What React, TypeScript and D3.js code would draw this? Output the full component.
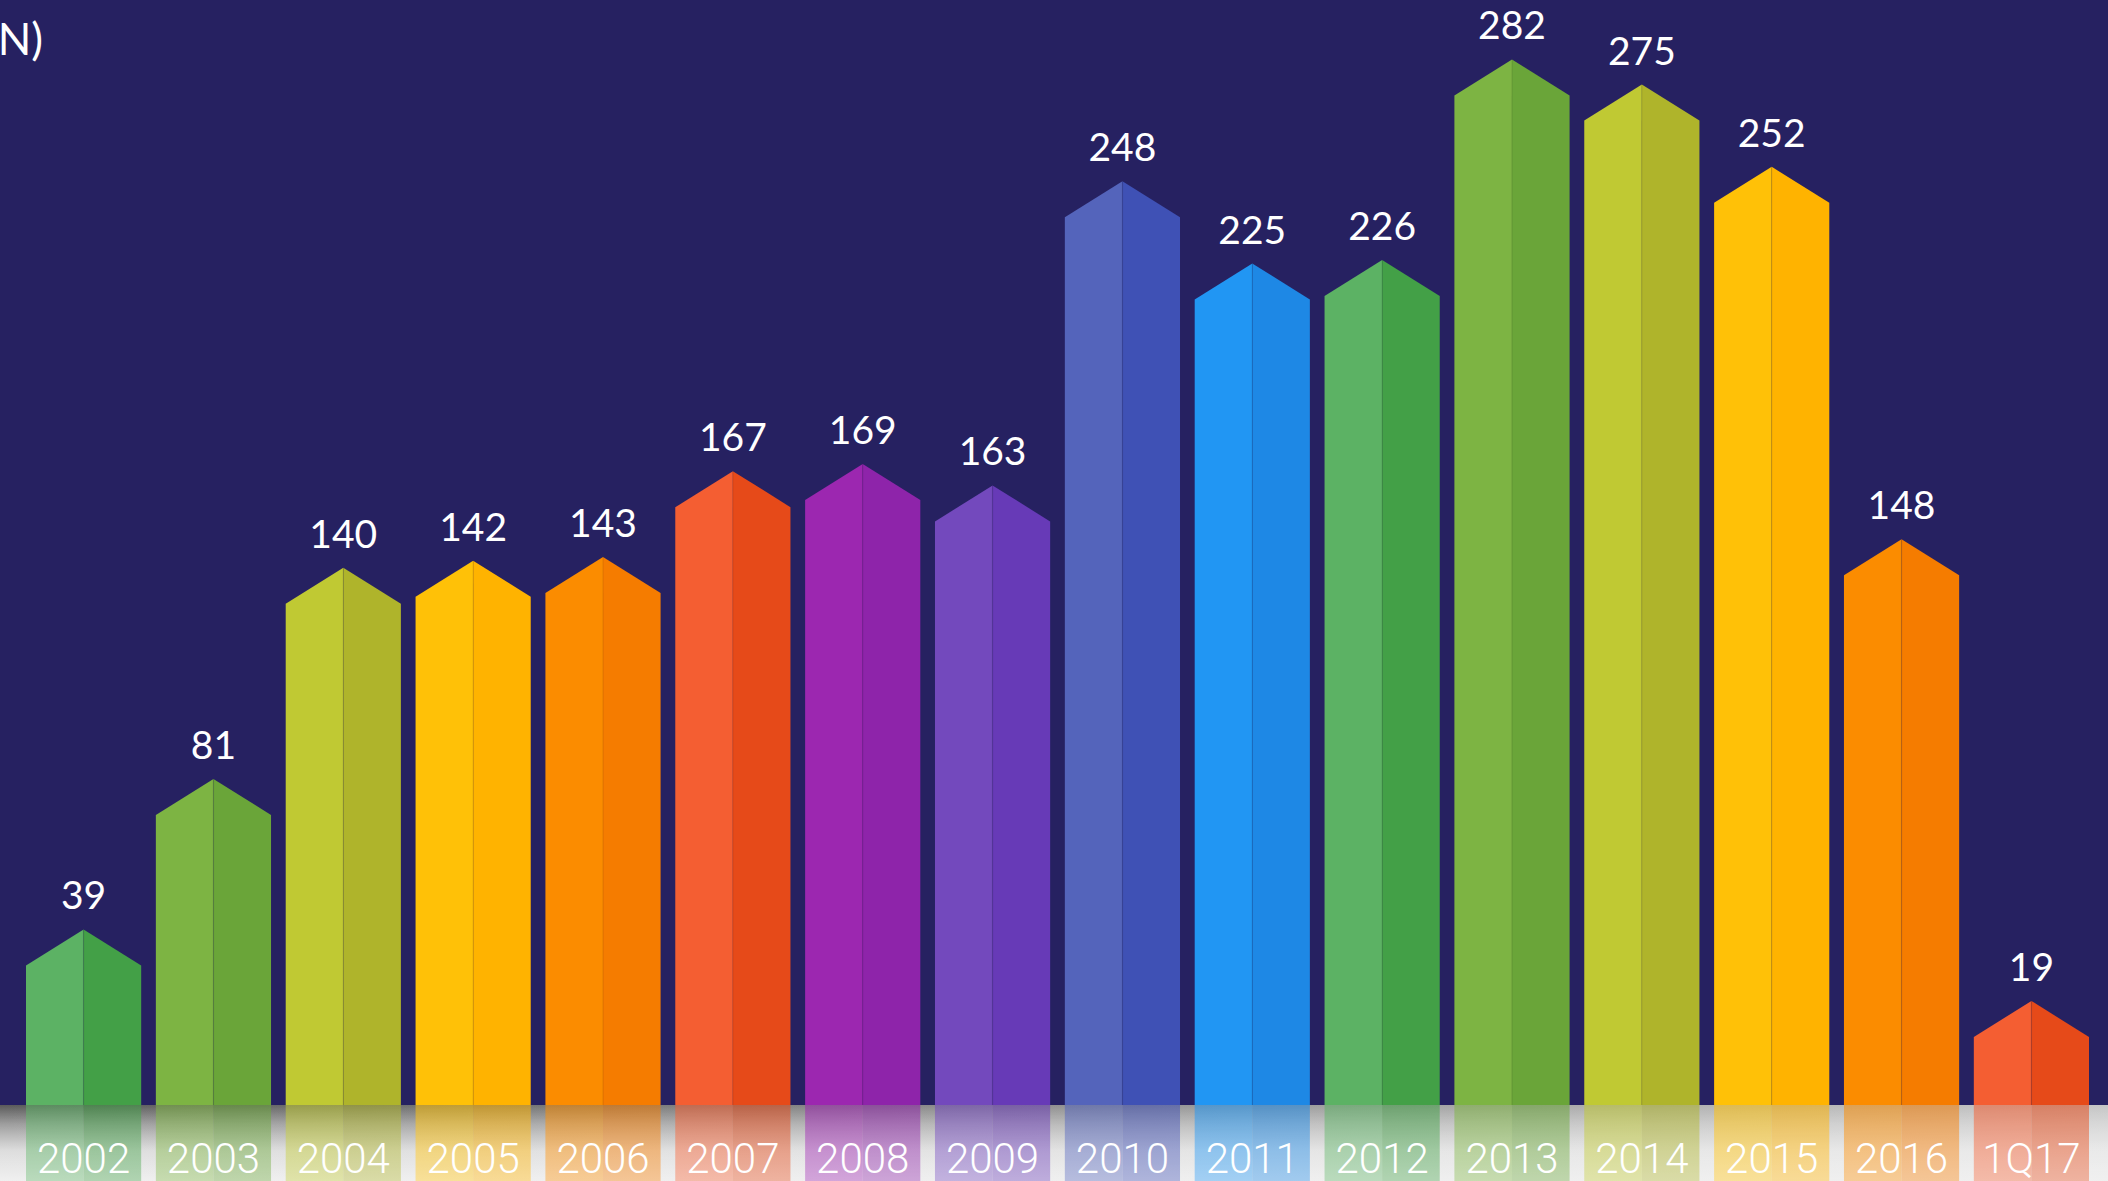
import { useRef, useEffect } from 'react';
import * as d3 from 'd3';

const categories = ['2002', '2003', '2004', '2005', '2006', '2007', '2008', '2009', '2010', '2011', '2012', '2013', '2014', '2015', '2016', '1Q17'];
const values = [39, 81, 140, 142, 143, 167, 169, 163, 248, 225, 226, 282, 275, 252, 148, 19];
const leftColors = ['#5cb264', '#7db443', '#c0c933', '#ffc107', '#fb8c00', '#f45e32', '#9c27b0', '#7349bd', '#5464bb', '#2196f3', '#5cb264', '#7db443', '#c0c933', '#ffc107', '#fb8c00', '#f45e32'];
const rightColors = ['#43a047', '#6aa539', '#afb42b', '#ffb300', '#f57c00', '#e64a19', '#8e24aa', '#673ab7', '#3f51b5', '#1e88e5', '#43a047', '#6aa539', '#afb42b', '#ffb300', '#f57c00', '#e64a19'];
const unitLabel = '(USD BN)';

const W = 2108;
const H = 1181;

export default function App() {
  const svgRef = useRef<SVGSVGElement | null>(null);

  useEffect(() => {
    const svg = d3.select(svgRef.current);
    svg.selectAll('*').remove();
    svg.attr('width', W).attr('height', H);

    const baseY = 1105;
    const peak = 36;

    const x = d3.scaleBand<string>()
      .domain(categories)
      .range([26, 2089])
      .paddingInner(0.113)
      .paddingOuter(0);

    const y = d3.scaleLinear().domain([0, 300]).range([baseY, 31]);

    const defs = svg.append('defs');

    // strip gradients
    const gV = defs.append('linearGradient').attr('id', 'stripV').attr('x1', 0).attr('y1', 0).attr('x2', 0).attr('y2', 1);
    gV.append('stop').attr('offset', '0%').attr('stop-color', '#5a5a5a');
    gV.append('stop').attr('offset', '25%').attr('stop-color', '#969696');
    gV.append('stop').attr('offset', '60%').attr('stop-color', '#d6d6d6');
    gV.append('stop').attr('offset', '100%').attr('stop-color', '#e9e9e9');

    const gH = defs.append('linearGradient').attr('id', 'stripH').attr('x1', 0).attr('y1', 0).attr('x2', 1).attr('y2', 0);
    gH.append('stop').attr('offset', '0%').attr('stop-color', '#eaeaea').attr('stop-opacity', 0);
    gH.append('stop').attr('offset', '100%').attr('stop-color', '#eaeaea').attr('stop-opacity', 0.75);

    const gW = defs.append('linearGradient').attr('id', 'stripW').attr('x1', 0).attr('y1', 0).attr('x2', 0).attr('y2', 1);
    gW.append('stop').attr('offset', '0%').attr('stop-color', '#ffffff').attr('stop-opacity', 0);
    gW.append('stop').attr('offset', '100%').attr('stop-color', '#ffffff').attr('stop-opacity', 0.3);

    // background
    svg.append('rect').attr('width', W).attr('height', baseY).attr('fill', '#262161');

    // unit label, cut at the left edge
    svg.append('text')
      .attr('x', 43)
      .attr('y', 55)
      .attr('text-anchor', 'end')
      .attr('fill', '#ffffff')
      .style('font-family', 'Lato, sans-serif')
      .style('font-size', '44px')
      .text(unitLabel);

    const g = svg.append('g');

    // bars: two faces with a pointed top
    categories.forEach((c, i) => {
      const x0 = x(c)!;
      const bw = x.bandwidth();
      const cx = x0 + bw / 2;
      const x1 = x0 + bw;
      const sh = y(values[i]);
      const ap = sh - peak;

      g.append('path')
        .attr('d', `M${x0},${baseY}L${x0},${sh}L${cx},${ap}L${cx},${baseY}Z`)
        .attr('fill', leftColors[i]);
      g.append('path')
        .attr('d', `M${cx},${baseY}L${cx},${ap}L${x1},${sh}L${x1},${baseY}Z`)
        .attr('fill', rightColors[i]);
      g.append('line')
        .attr('x1', cx).attr('x2', cx)
        .attr('y1', ap).attr('y2', baseY)
        .attr('stroke', '#000').attr('stroke-opacity', 0.07).attr('stroke-width', 1.5);

      g.append('text')
        .attr('x', cx)
        .attr('y', ap - 20)
        .attr('text-anchor', 'middle')
        .attr('fill', '#ffffff')
        .style('font-family', 'Lato, sans-serif')
        .style('font-size', '39px')
        .text(values[i]);
    });

    // reflection strip
    const strip = svg.append('g');
    const sh = H - baseY;
    strip.append('rect').attr('x', 0).attr('y', baseY).attr('width', W).attr('height', sh).attr('fill', 'url(#stripV)');
    strip.append('rect').attr('x', 0).attr('y', baseY).attr('width', W).attr('height', sh).attr('fill', 'url(#stripH)');

    categories.forEach((c, i) => {
      const x0 = x(c)!;
      const bw = x.bandwidth();
      strip.append('rect')
        .attr('x', x0).attr('y', baseY).attr('width', bw / 2).attr('height', sh)
        .attr('fill', leftColors[i]).attr('fill-opacity', 0.55);
      strip.append('rect')
        .attr('x', x0 + bw / 2).attr('y', baseY).attr('width', bw / 2).attr('height', sh)
        .attr('fill', rightColors[i]).attr('fill-opacity', 0.55);
    });

    strip.append('rect').attr('x', 0).attr('y', baseY).attr('width', W).attr('height', sh).attr('fill', 'url(#stripW)');

    categories.forEach((c) => {
      strip.append('text')
        .attr('x', x(c)! + x.bandwidth() / 2)
        .attr('y', 1173)
        .attr('text-anchor', 'middle')
        .attr('fill', '#ffffff')
        .style('font-family', 'Roboto, sans-serif')
        .style('font-weight', 300)
        .style('font-size', '42px')
        .text(c);
    });
  }, []);

  return <svg ref={svgRef} style={{ position: 'absolute', left: 0, top: 0, display: 'block' }}></svg>;
}
